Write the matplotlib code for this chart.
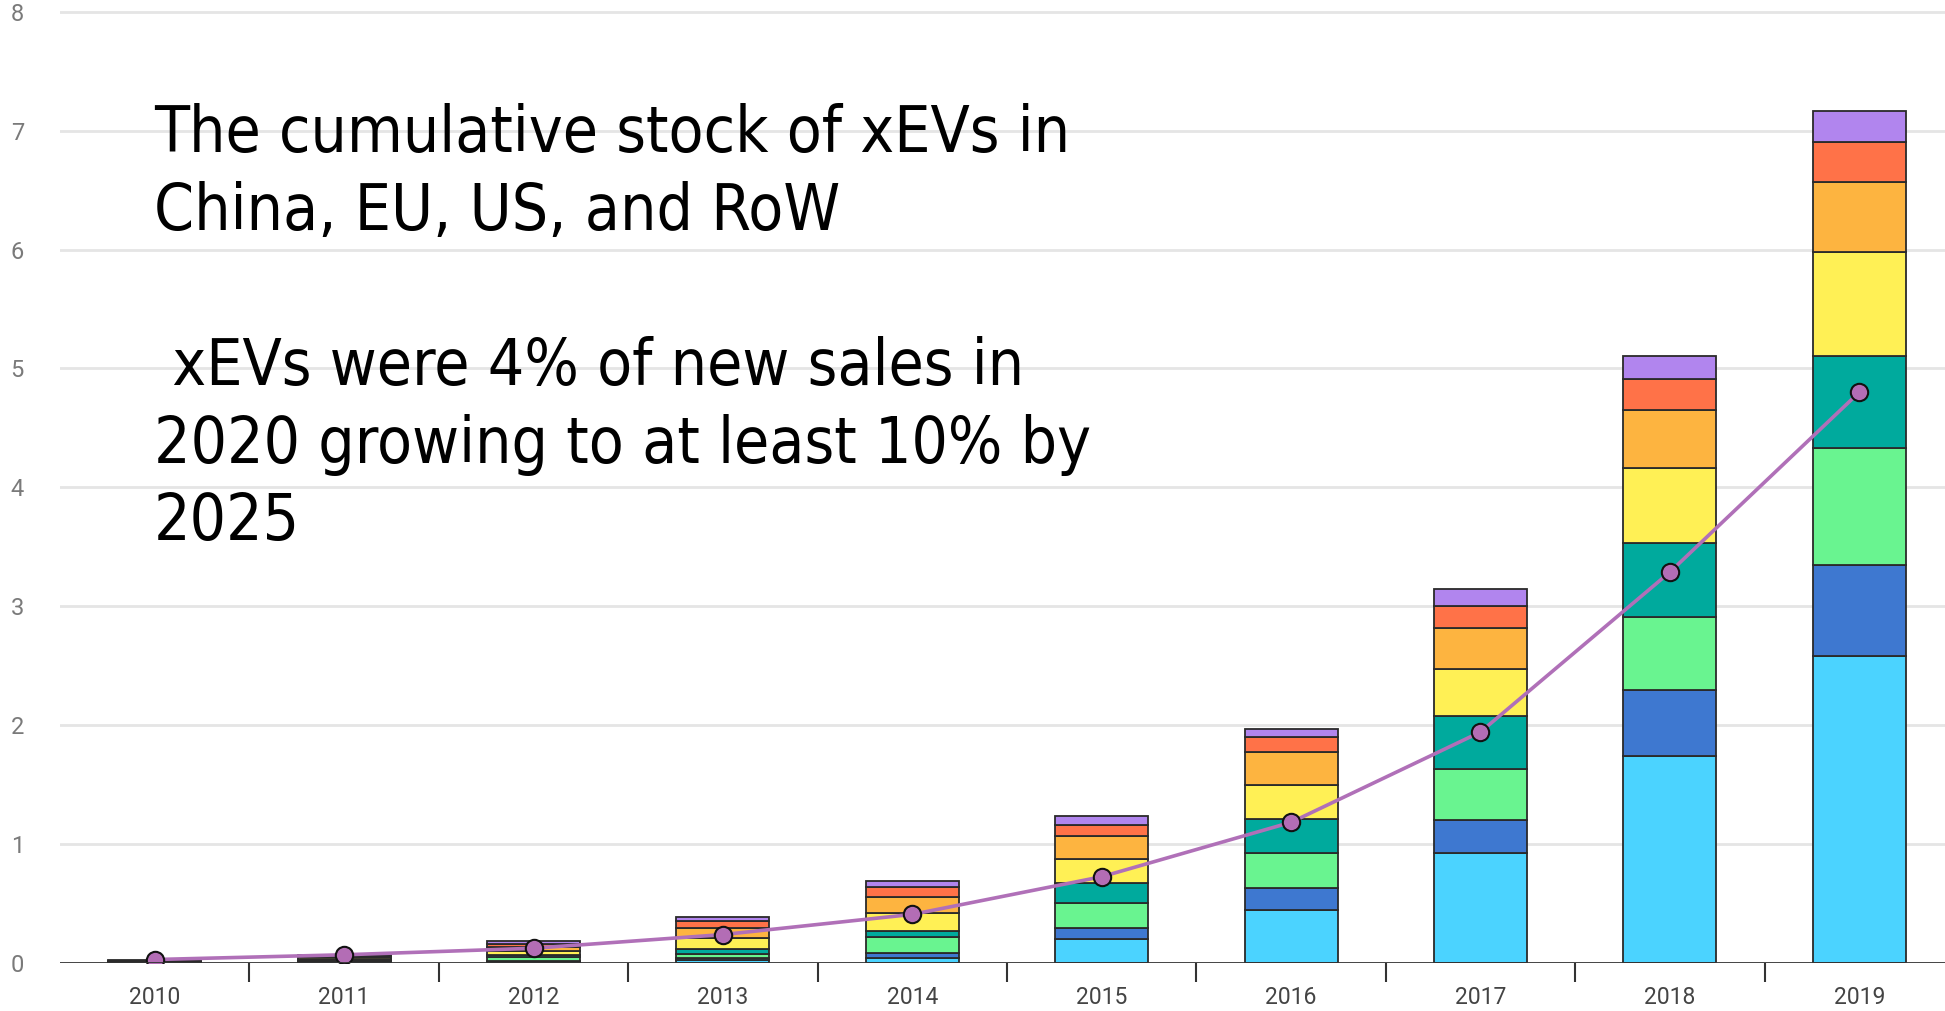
import matplotlib
matplotlib.use("Agg")
import matplotlib.pyplot as plt
import numpy as np

years = ["2010", "2011", "2012", "2013", "2014", "2015", "2016", "2017", "2018", "2019"]

# stacked segments (millions), bottom to top
seg_lightblue = [0.003, 0.010, 0.008, 0.020, 0.042, 0.194, 0.444, 0.918, 1.742, 2.583]
seg_blue      = [0.002, 0.005, 0.006, 0.015, 0.042, 0.093, 0.183, 0.278, 0.552, 0.765]
seg_green     = [0.003, 0.010, 0.030, 0.035, 0.132, 0.216, 0.292, 0.436, 0.615, 0.981]
seg_teal      = [0.002, 0.008, 0.020, 0.040, 0.051, 0.163, 0.289, 0.443, 0.618, 0.779]
seg_yellow    = [0.002, 0.010, 0.035, 0.100, 0.146, 0.203, 0.290, 0.398, 0.637, 0.872]
seg_orange    = [0.002, 0.010, 0.035, 0.080, 0.141, 0.196, 0.275, 0.344, 0.490, 0.590]
seg_red       = [0.002, 0.008, 0.025, 0.060, 0.078, 0.093, 0.124, 0.183, 0.256, 0.340]
seg_purple    = [0.002, 0.006, 0.018, 0.030, 0.057, 0.079, 0.070, 0.147, 0.198, 0.260]

line_values = [0.025, 0.065, 0.12, 0.235, 0.405, 0.722, 1.18, 1.94, 3.286, 4.80]

series = [seg_lightblue, seg_blue, seg_green, seg_teal, seg_yellow, seg_orange, seg_red, seg_purple]
colors = ["#4BD3FF", "#3E78D0", "#69F490", "#00AA9D", "#FFF055", "#FDB440", "#FF7248", "#B185EE"]

y_ticks = [0, 1, 2, 3, 4, 5, 6, 7, 8]

annotation = ("The cumulative stock of xEVs in\nChina, EU, US, and RoW\n\n"
              " xEVs were 4% of new sales in\n2020 growing to at least 10% by\n2025")

W, H, DPI = 1945, 1011, 100
fig = plt.figure(figsize=(W / DPI, H / DPI), dpi=DPI)
fig.patch.set_facecolor("white")

left_px, bottom_px, top_px = 60, 48.5, 6
ax = fig.add_axes([left_px / W, bottom_px / H, 1 - left_px / W, (H - bottom_px - top_px) / H])

x = np.arange(len(years))
bottom = np.zeros(len(years))
for vals, c in zip(series, colors):
    ax.bar(x, vals, width=0.49, bottom=bottom, color=c, edgecolor="#2a2a2a",
           linewidth=1.3, zorder=2)
    bottom += np.array(vals)

ax.plot(x, line_values, color="#B070B8", linewidth=2.6, zorder=3,
        marker="o", markersize=12.5, markerfacecolor="#B36DB5",
        markeredgecolor="#111111", markeredgewidth=1.5)

unit_px = 118.8
ax.set_ylim(0, 8 + top_px / unit_px)
ax.set_xlim(-0.5, -0.5 + (W - left_px) / 189.4)

ax.set_yticks(y_ticks)
ax.set_yticklabels([str(v) for v in y_ticks], fontsize=17, color="#7a7a7a", family="Roboto")
ax.tick_params(axis="y", length=0, pad=26)
for yv in y_ticks[1:]:
    ax.axhline(yv, color="#e5e5e5", linewidth=2, zorder=0)
ax.axhline(0, color="#333333", linewidth=2, zorder=4)

ax.set_xticks(x)
ax.set_xticklabels(years, fontsize=16.5, color="#444444", family="Roboto")
ax.set_xticks(np.arange(0.5, 9, 1), minor=True)
ax.tick_params(axis="x", which="major", length=0, pad=17)
ax.tick_params(axis="x", which="minor", length=14, width=1.5, color="#333333")

for s in ax.spines.values():
    s.set_visible(False)

fig.text(154 / W, 1 - 103 / H, annotation, fontsize=46, color="black",
         family="DejaVu Sans", stretch="condensed", va="top", ha="left",
         linespacing=1.32)

fig.savefig("out.png", dpi=DPI)
